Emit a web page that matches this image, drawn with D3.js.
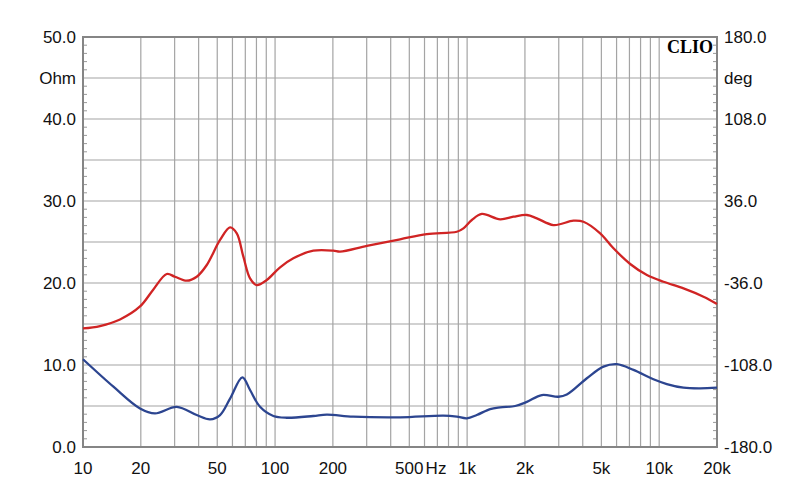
<!DOCTYPE html>
<html><head><meta charset="utf-8">
<script src="https://cdn.jsdelivr.net/npm/d3@7/dist/d3.min.js"></script>
<style>body{margin:0;background:#fff}svg{display:block}text{fill:#111}</style>
</head><body><svg id="c" width="800" height="504"></svg>
<script>
// Frequency points (Hz) and values
const blueFreq = [10,14.4,19.8,23.7,30.8,39.1,45.9,51.7,58.3,67.6,74.1,83.5,98,115,158,186,255,448,753,884,996,1123,1318,1486,1778,2047,2449,2989,3304,4202,5128,6021,7345,9333,10960,13386,16350,20000];
const blueOhm  = [10.7,7.35,4.7,4.1,4.9,3.9,3.38,3.9,5.9,8.5,6.95,4.9,3.78,3.57,3.78,3.94,3.7,3.62,3.82,3.7,3.5,3.9,4.63,4.84,5.0,5.5,6.34,6.13,6.4,8.38,9.8,10.1,9.4,8.26,7.68,7.23,7.15,7.23];
const redFreq = [10,12.26,15.58,19.81,23.15,27.29,30.1,34.7,39.1,44.1,51.7,58.3,63.2,68.4,74.1,80.3,90.5,106.2,124.5,158.3,201.2,218,300.4,447.7,616.6,883.8,957,1058,1193,1486,1743,2047,2307,2815,3578,4034,4929,5781,7063,8630,10530,13386,17008,20000];
const redDeg  = [-75.9,-73.8,-68.0,-56.6,-42.1,-28.1,-30.5,-34.0,-30.5,-20.2,1.8,12.9,7.6,-12.9,-31.9,-37.8,-33.4,-22.2,-14.3,-7.6,-7.6,-8.5,-3.5,2.4,7.0,9.0,12.0,19.3,24.6,19.9,22.2,23.7,20.8,14.9,18.7,17.8,7.6,-5.5,-19.3,-29.0,-34.9,-40.7,-48.0,-54.4];
const xTickVals = [10,20,50,100,200,500,1000,2000,5000,10000,20000];
const xTickLabels = ["10","20","50","100","200","500","1k","2k","5k","10k","20k"];
const leftTicks = [0,10,20,30,40,50];
const leftLabels = ["0.0","10.0","20.0","30.0","40.0","50.0"];
const rightTicks = [-180,-108,-36,36,108,180];
const rightLabels = ["-180.0","-108.0","-36.0","36.0","108.0","180.0"];

const L=83,R=717,T=37,B=447;
const svg=d3.select("#c");
const x=d3.scaleLog().domain([10,20000]).range([L,R]);
const yL=d3.scaleLinear().domain([0,50]).range([B,T]);
const yR=d3.scaleLinear().domain([-180,180]).range([B,T]);
const sans="'Liberation Sans',Arial,sans-serif";

// vertical grid
const vg=[];
for(let d=10;d<20000;d*=10){for(let k=1;k<=9;k++){const v=d*k;if(v>10&&v<20000)vg.push(v);}}
svg.append("g").selectAll("line").data(vg).join("line")
 .attr("x1",d=>x(d)).attr("x2",d=>x(d)).attr("y1",T).attr("y2",B)
 .attr("stroke","#a4a4a4").attr("stroke-width",1.2);
// horizontal grid every 5 ohm
const hg=d3.range(5,50,5);
svg.append("g").selectAll("line").data(hg).join("line")
 .attr("x1",L).attr("x2",R).attr("y1",d=>yL(d)).attr("y2",d=>yL(d))
 .attr("stroke","#a4a4a4").attr("stroke-width",1.2);
// minor ticks
const mt=d3.range(1,50,1).filter(d=>d%5!==0);
svg.append("g").selectAll("line").data(mt).join("line")
 .attr("x1",L).attr("x2",L+4).attr("y1",d=>yL(d)).attr("y2",d=>yL(d)).attr("stroke","#999").attr("stroke-width",1);
svg.append("g").selectAll("line").data(mt).join("line")
 .attr("x1",R-4).attr("x2",R).attr("y1",d=>yL(d)).attr("y2",d=>yL(d)).attr("stroke","#999").attr("stroke-width",1);
// border
svg.append("rect").attr("x",L).attr("y",T).attr("width",R-L).attr("height",B-T)
 .attr("fill","none").attr("stroke","#858585").attr("stroke-width",2);

// curves
const line=(ys)=>d3.line().x(d=>x(d[0])).y(d=>ys(d[1])).curve(d3.curveCatmullRom.alpha(0.5));
svg.append("path").datum(redFreq.map((f,i)=>[f,redDeg[i]])).attr("d",line(yR))
 .attr("fill","none").attr("stroke","#d02424").attr("stroke-width",2.3);
svg.append("path").datum(blueFreq.map((f,i)=>[f,blueOhm[i]])).attr("d",line(yL))
 .attr("fill","none").attr("stroke","#2c4590").attr("stroke-width",2.3);

// axes labels
const fs=17;
const t=(g)=>g.style("font-family",sans).attr("font-size",fs);
svg.append("g").selectAll("text").data(leftTicks).join("text").call(t)
 .attr("x",76).attr("y",d=>yL(d)+6).attr("text-anchor","end").text((d,i)=>leftLabels[i]);
svg.append("text").call(t).attr("x",76).attr("y",84).attr("text-anchor","end").text("Ohm");
svg.append("g").selectAll("text").data(rightTicks).join("text").call(t)
 .attr("x",724).attr("y",d=>yR(d)+6).attr("text-anchor","start").text((d,i)=>rightLabels[i]);
svg.append("text").call(t).attr("x",724).attr("y",84).attr("text-anchor","start").text("deg");
svg.append("g").selectAll("text").data(xTickVals).join("text").call(t)
 .attr("x",d=>x(d)).attr("y",474).attr("text-anchor","middle").text((d,i)=>xTickLabels[i]);
svg.append("text").call(t).attr("x",436).attr("y",474).attr("text-anchor","middle").text("Hz");
svg.append("text").attr("x",713).attr("y",53).attr("text-anchor","end")
 .style("font-family","'Liberation Serif','DejaVu Serif',serif").style("font-weight","bold").attr("font-size",18).style("fill","#000").text("CLIO");
</script></body></html>
